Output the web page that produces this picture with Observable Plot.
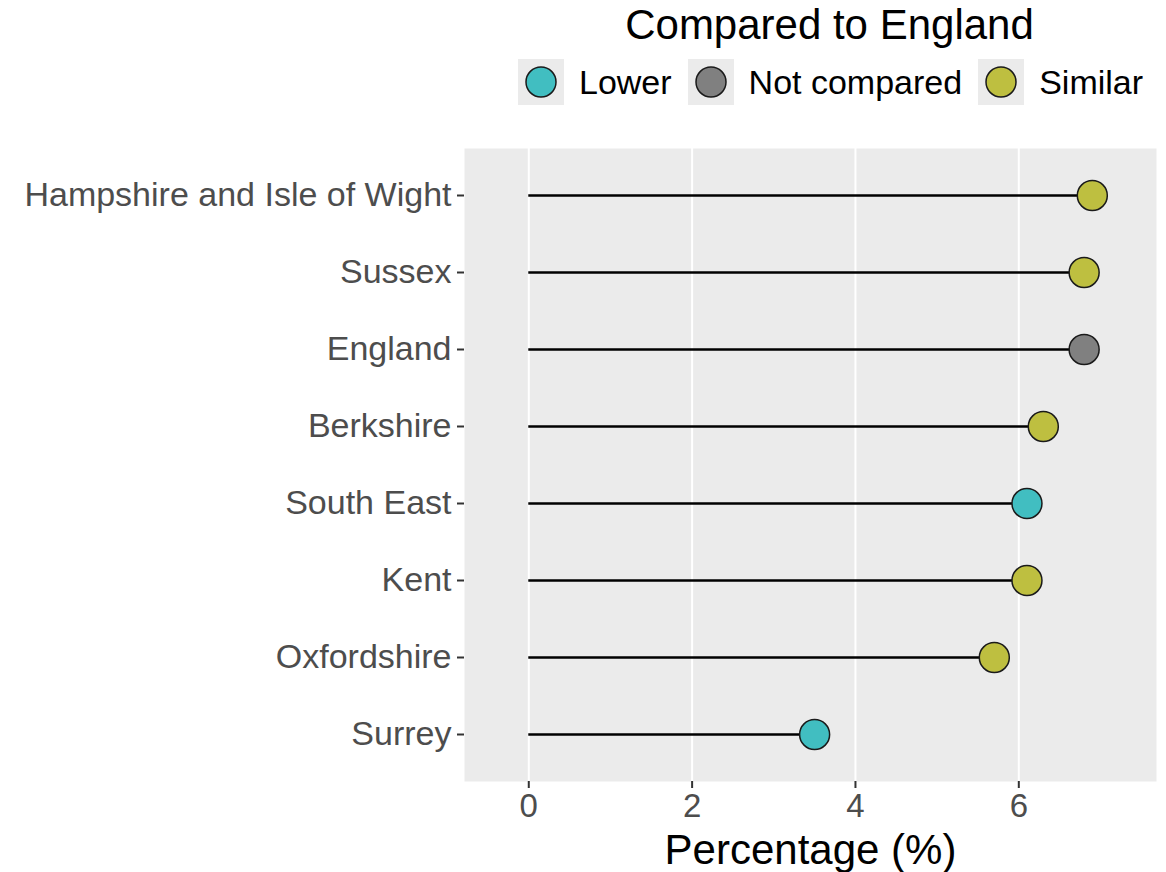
<!DOCTYPE html>
<html>
<head>
<meta charset="utf-8">
<script src="https://cdn.jsdelivr.net/npm/d3@7"></script>
<script src="https://cdn.jsdelivr.net/npm/@observablehq/plot@0.6"></script>
<style>
  html, body { margin: 0; padding: 0; background: #fff; }
  body { width: 1166px; height: 872px; position: relative; overflow: hidden;
         font-family: "Liberation Sans", Arial, sans-serif; }
  #legend { position: absolute; left: 518px; top: 0; width: 623px; }
  #legend .title { position: absolute; left: 0; width: 100%; top: 4px; text-align: center;
                   font-size: 42px; line-height: 42px; color: #000; white-space: nowrap; }
  #legend .row { position: absolute; left: 0; top: 59px; display: flex; align-items: center; }
  #legend .key { width: 46px; height: 46px; background: #EBEBEB; display: flex; align-items: center; justify-content: center; }
  #legend .lab { font-size: 34px; line-height: 34px; color: #000; margin-left: 15px; margin-right: 16px; white-space: nowrap; }
  #chart { position: absolute; left: 0; top: 120px; }
</style>
</head>
<body>
<div id="legend"><div class="title">Compared to England</div><div class="row"></div></div>
<div id="chart"></div>
<script>
// Data
const areas = ["Hampshire and Isle of Wight", "Sussex", "England", "Berkshire", "South East", "Kent", "Oxfordshire", "Surrey"];
const values = [6.9, 6.8, 6.8, 6.3, 6.1, 6.1, 5.7, 3.5];
const statuses = ["Similar", "Similar", "Not compared", "Similar", "Lower", "Similar", "Similar", "Lower"];
const statusLevels = ["Lower", "Not compared", "Similar"];
const statusColors = ["#41BEC1", "#808080", "#BEBF40"];
const xTicks = [0, 2, 4, 6];
const xTitle = "Percentage (%)";

const data = areas.map((a, i) => ({area: a, value: values[i], status: statuses[i]}));

// Legend (HTML)
const row = d3.select("#legend .row");
statusLevels.forEach((s, i) => {
  const key = row.append("div").attr("class", "key");
  const svg = key.append("svg").attr("width", 34).attr("height", 34);
  svg.append("circle").attr("cx", 17).attr("cy", 17).attr("r", 15)
    .attr("fill", statusColors[i]).attr("stroke", "#1a1a1a").attr("stroke-width", 1.5);
  row.append("div").attr("class", "lab").text(s);
});

const plot = Plot.plot({
  width: 1166,
  height: 752,
  marginTop: 28,
  marginBottom: 91,
  marginLeft: 464,
  marginRight: 10,
  style: {fontFamily: "'Liberation Sans', Arial, sans-serif", background: "transparent"},
  x: {domain: [-0.787, 7.686], label: null},
  y: {type: "point", domain: areas, padding: 0.6, label: null},
  color: {domain: statusLevels, range: statusColors},
  marks: [
    Plot.frame({fill: "#EBEBEB", stroke: null}),
    Plot.ruleX(xTicks, {stroke: "#fff", strokeWidth: 2}),
    Plot.ruleY(data, {y: "area", x1: 0, x2: "value", stroke: "#000", strokeWidth: 2.3}),
    Plot.dot(data, {x: "value", y: "area", r: 15, fill: "status", stroke: "#1a1a1a", strokeWidth: 1.5}),
    Plot.axisX({ticks: xTicks, tickSize: 7, tickPadding: 5, fontSize: 33, stroke: "#333", strokeWidth: 2, fill: "#4D4D4D", label: null}),
    Plot.axisY({tickSize: 7, tickPadding: 6, fontSize: 34, stroke: "#333", strokeWidth: 2, fill: "#4D4D4D", label: null}),
    Plot.text([xTitle], {frameAnchor: "bottom", dy: 68.6, lineAnchor: "middle", fontSize: 42, fill: "#000", text: d => d})
  ]
});
document.getElementById("chart").appendChild(plot);
</script>
</body>
</html>
